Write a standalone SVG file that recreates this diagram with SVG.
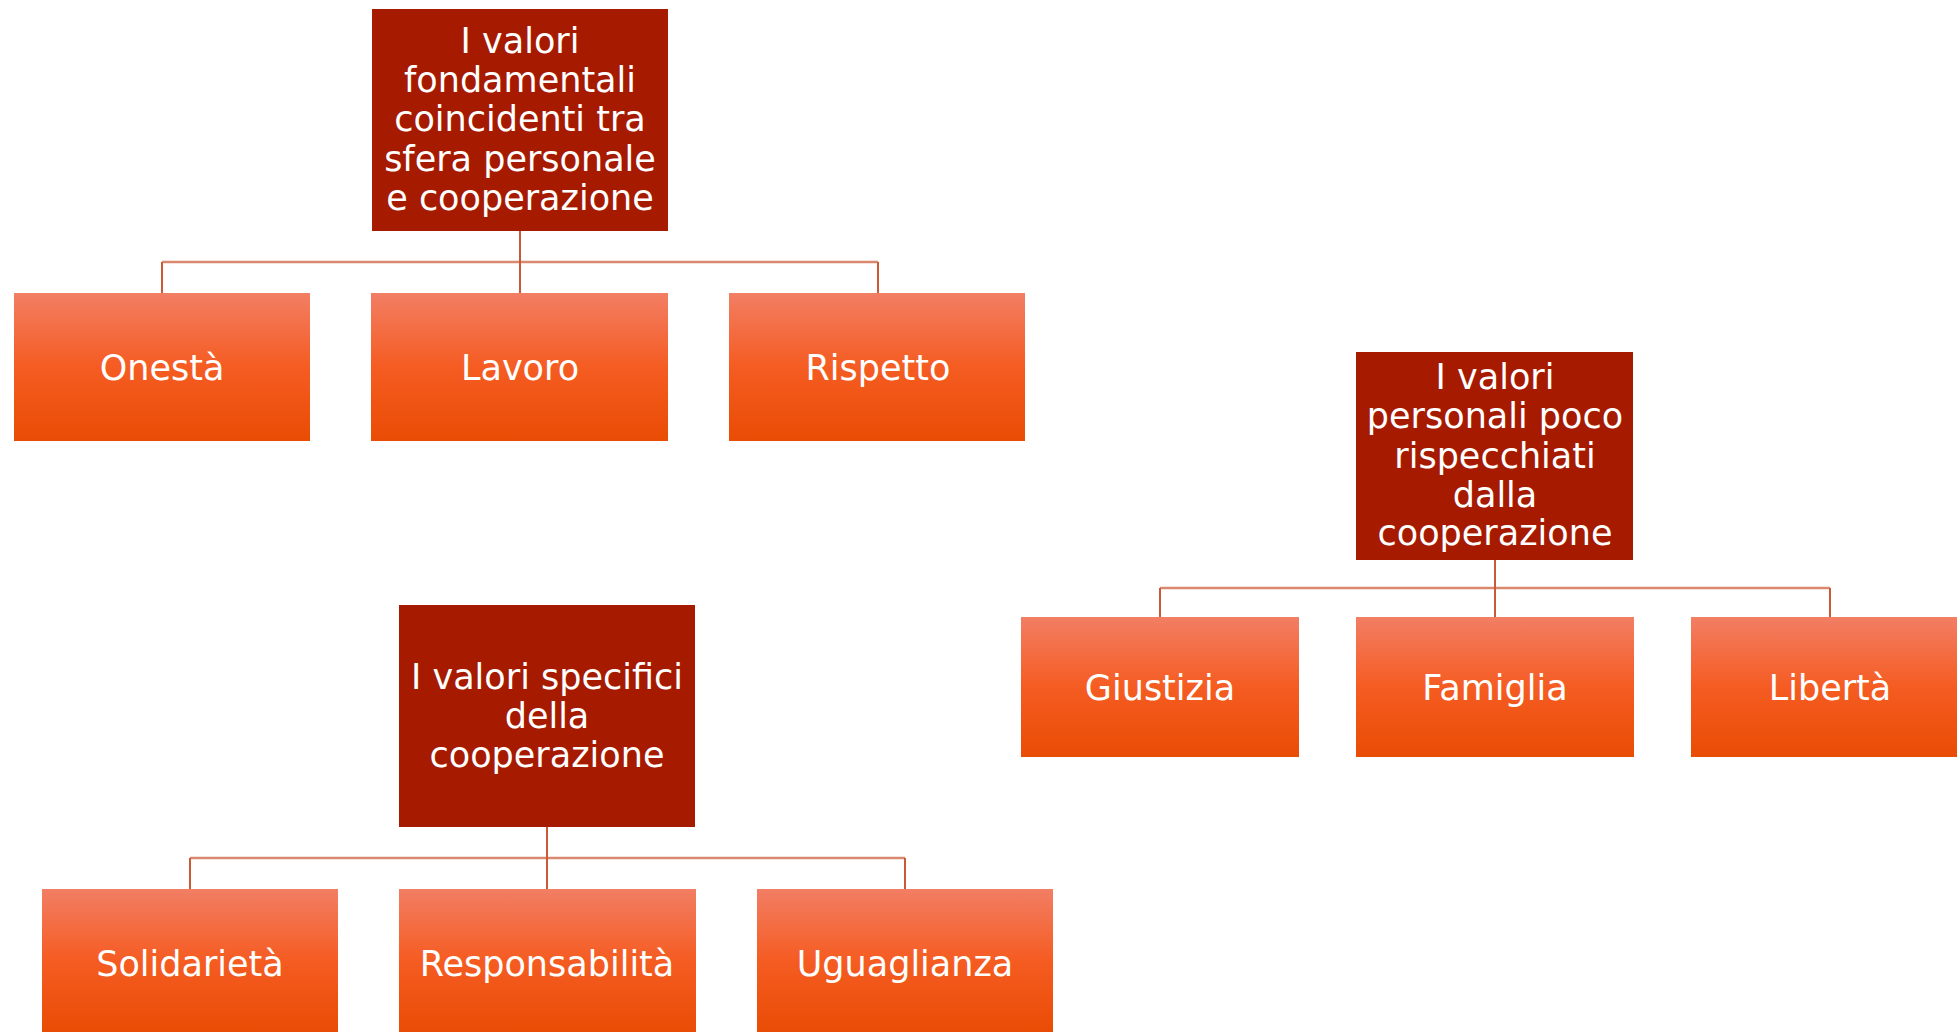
<svg xmlns="http://www.w3.org/2000/svg" width="1957" height="1032" viewBox="0 0 1957 1032">
<defs>
<linearGradient id="g" x1="0" y1="0" x2="0" y2="1">
<stop offset="0" stop-color="#F27E64"/>
<stop offset="0.5" stop-color="#F55C22"/>
<stop offset="1" stop-color="#E94C04"/>
</linearGradient>
<style>
.root{fill:#A61A00}
.child{fill:url(#g)}
text{font-family:"DejaVu Sans","Liberation Sans",sans-serif;font-size:35px;fill:#FFFFFF;text-anchor:middle}
.h{stroke:#D98A6E;stroke-width:2.5;fill:none}
.v{stroke:#C95A36;stroke-width:2;fill:none}
</style>
</defs>
<rect width="1957" height="1032" fill="#FFFFFF"/>
<g id="connectors">
<path class="h" d="M162 262H878"/>
<path class="v" d="M520 231V293M162 262V293M878 262V293"/>
<path class="h" d="M1160 588H1830"/>
<path class="v" d="M1495 560V617M1160 588V617M1830 588V617"/>
<path class="h" d="M190 858H905"/>
<path class="v" d="M547 827V889M190 858V889M905 858V889"/>
</g>
<g id="root1">
<rect class="root" x="372" y="9" width="296" height="222"/>
<text x="520" y="53">I valori</text>
<text x="520" y="92">fondamentali</text>
<text x="520" y="131">coincidenti tra</text>
<text x="520" y="171">sfera personale</text>
<text x="520" y="210">e cooperazione</text>
</g>
<g id="onesta"><rect class="child" x="14" y="293" width="296" height="148"/><text x="162" y="380">Onestà</text></g>
<g id="lavoro"><rect class="child" x="371" y="293" width="297" height="148"/><text x="520" y="380">Lavoro</text></g>
<g id="rispetto"><rect class="child" x="729" y="293" width="296" height="148"/><text x="878" y="380">Rispetto</text></g>
<g id="root2">
<rect class="root" x="1356" y="352" width="277" height="208"/>
<text x="1495" y="389">I valori</text>
<text x="1495" y="428">personali poco</text>
<text x="1495" y="468">rispecchiati</text>
<text x="1495" y="507">dalla</text>
<text x="1495" y="545">cooperazione</text>
</g>
<g id="giustizia"><rect class="child" x="1021" y="617" width="278" height="140"/><text x="1160" y="700">Giustizia</text></g>
<g id="famiglia"><rect class="child" x="1356" y="617" width="278" height="140"/><text x="1495" y="700">Famiglia</text></g>
<g id="liberta"><rect class="child" x="1691" y="617" width="278" height="140"/><text x="1830" y="700">Libertà</text></g>
<g id="root3">
<rect class="root" x="399" y="605" width="296" height="222"/>
<text x="547" y="689">I valori specifici</text>
<text x="547" y="728">della</text>
<text x="547" y="767">cooperazione</text>
</g>
<g id="solidarieta"><rect class="child" x="42" y="889" width="296" height="143"/><text x="190" y="976">Solidarietà</text></g>
<g id="responsabilita"><rect class="child" x="399" y="889" width="297" height="143"/><text x="547" y="976">Responsabilità</text></g>
<g id="uguaglianza"><rect class="child" x="757" y="889" width="296" height="143"/><text x="905" y="976">Uguaglianza</text></g>
</svg>
